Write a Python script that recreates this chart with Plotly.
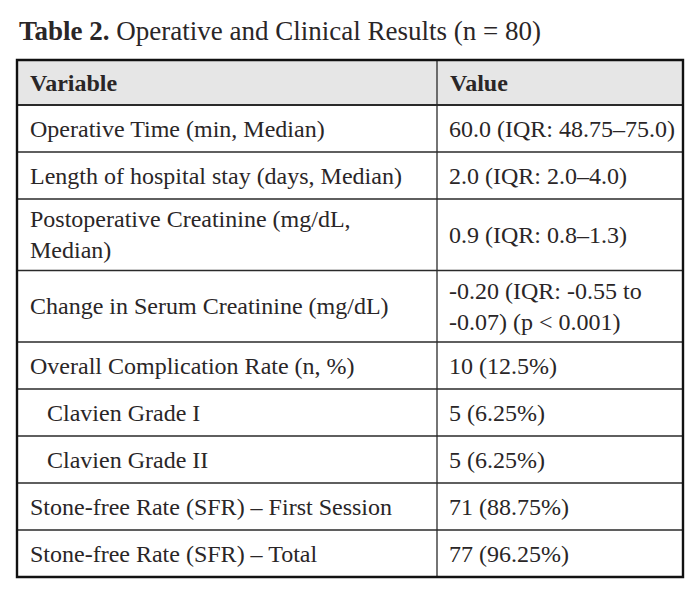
import plotly.graph_objects as go

title_bold = "Table 2."
title_rest = " Operative and Clinical Results (n = 80)"
headers = ["Variable", "Value"]
variables = [
    "Operative Time (min, Median)",
    "Length of hospital stay (days, Median)",
    "Postoperative Creatinine (mg/dL,<br>Median)",
    "Change in Serum Creatinine (mg/dL)",
    "Overall Complication Rate (n, %)",
    "Clavien Grade I",
    "Clavien Grade II",
    "Stone-free Rate (SFR) – First Session",
    "Stone-free Rate (SFR) – Total",
]
values = [
    "60.0 (IQR: 48.75–75.0)",
    "2.0 (IQR: 2.0–4.0)",
    "0.9 (IQR: 0.8–1.3)",
    "-0.20 (IQR: -0.55 to<br>-0.07) (p < 0.001)",
    "10 (12.5%)",
    "5 (6.25%)",
    "5 (6.25%)",
    "71 (88.75%)",
    "77 (96.25%)",
]
indented = [False, False, False, False, False, True, True, False, False]

FONT = "Liberation Serif, DejaVu Serif, serif"
TXT = "#2a2627"
W, H = 700, 602
OFF = 8  # default page body margin
x_left, x_mid, x_right = 17, 437, 683
y_top = 60
header_h = 45
row_h1 = 47
extra_line = 24.5
pad = 11
indent = 17
fs = 24

fig = go.Figure()
shapes = []
annotations = []

# header
shapes.append(dict(type="rect", x0=x_left, x1=x_right, y0=y_top, y1=y_top + header_h,
                   fillcolor="#e6e6e6", line=dict(width=0), layer="below"))
yc = y_top + header_h / 2
for h, x0 in zip(headers, [x_left, x_mid]):
    annotations.append(dict(x=x0 + pad, y=yc,
                            text="<b>" + h + "</b>", showarrow=False,
                            xanchor="left", yanchor="middle", align="left",
                            font=dict(family=FONT, size=fs, color=TXT)))

y = y_top + header_h
row_lines = [y]
for var, val, ind in zip(variables, values, indented):
    nlines = max(var.count("<br>"), val.count("<br>")) + 1
    h = row_h1 + extra_line * (nlines - 1)
    yc = y + h / 2
    annotations.append(dict(x=x_left + pad + (indent if ind else 0), y=yc, text=var,
                            showarrow=False, xanchor="left", yanchor="middle", align="left",
                            font=dict(family=FONT, size=fs, color=TXT)))
    annotations.append(dict(x=x_mid + pad - 1, y=yc, text=val,
                            showarrow=False, xanchor="left", yanchor="middle", align="left",
                            font=dict(family=FONT, size=fs, color=TXT)))
    y += h
    row_lines.append(y)
y_bottom = y

# inner horizontal lines
for i, yl in enumerate(row_lines[:-1]):
    shapes.append(dict(type="line", x0=x_left, x1=x_right, y0=yl, y1=yl,
                       line=dict(color="#2a2a2a", width=2 if i == 0 else 1.3)))
# column divider
shapes.append(dict(type="line", x0=x_mid, x1=x_mid, y0=y_top, y1=y_bottom,
                   line=dict(color="#2a2a2a", width=1.3)))
# outer border
shapes.append(dict(type="rect", x0=x_left, x1=x_right, y0=y_top, y1=y_bottom,
                   line=dict(color="#111111", width=2.4)))

# title
annotations.append(dict(x=x_left, y=31, text="<b>" + title_bold + "</b>" + title_rest,
                        showarrow=False, xanchor="left", yanchor="middle", align="left",
                        font=dict(family=FONT, size=27, color=TXT)))

fig.update_layout(
    width=W, height=H,
    margin=dict(l=0, r=0, t=0, b=0),
    paper_bgcolor="white", plot_bgcolor="white",
    xaxis=dict(range=[OFF, W + OFF], visible=False, fixedrange=True),
    yaxis=dict(range=[H + OFF, OFF], visible=False, fixedrange=True),
    shapes=shapes, annotations=annotations, showlegend=False,
)
fig.write_html("out.html")
